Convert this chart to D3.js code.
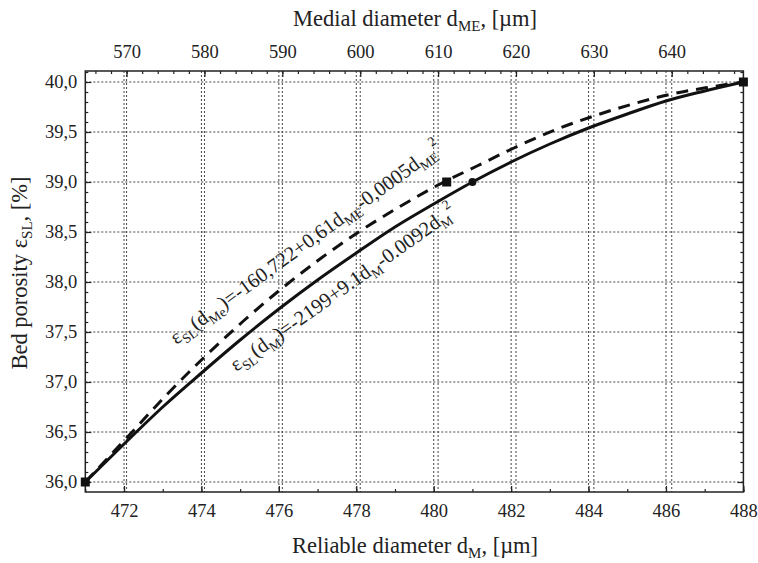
<!DOCTYPE html>
<html>
<head>
<meta charset="utf-8">
<script src="https://cdn.jsdelivr.net/npm/d3@7"></script>
<style>
body { margin: 0; background: #fff; }
text { font-family: "Liberation Serif", "DejaVu Serif", serif; fill: #222; }
</style>
</head>
<body>
<div id="chart"></div>
<script>
// values
// solid curve, eps_SL against reliable diameter dM (bottom axis)
const dM = [471, 472, 473, 474, 475, 476, 477, 478, 479, 480, 481, 482, 483, 484, 485, 486, 487, 488];
const epsM = [36.00, 36.38, 36.75, 37.09, 37.42, 37.73, 38.02, 38.29, 38.55, 38.78, 39.00, 39.20, 39.38, 39.54, 39.68, 39.81, 39.91, 40.00];
const markM = [471, 481, 488];
const markEpsM = [36.0, 39.0, 40.0];

// dashed curve, eps_SL against medial diameter dME (top axis)
const dME = [564.7, 570, 575, 580, 585, 590, 595, 600, 605, 610, 615, 620, 625, 630, 635, 640, 645, 649.2];
const epsME = [36.00, 36.44, 36.86, 37.25, 37.61, 37.94, 38.24, 38.51, 38.75, 38.97, 39.16, 39.35, 39.52, 39.66, 39.78, 39.88, 39.95, 40.00];
const markME = [564.7, 611.1, 649.2];
const markEpsME = [36.0, 39.0, 40.0];

const bottomTicks = [472, 474, 476, 478, 480, 482, 484, 486, 488];
const topTicks = [570, 580, 590, 600, 610, 620, 630, 640];
const yTicks = [36.0, 36.5, 37.0, 37.5, 38.0, 38.5, 39.0, 39.5, 40.0];

const W = 758, H = 563;
const L = 85.3, R = 743.4, T = 71, B = 492;
const SERIF = '"Liberation Serif", "DejaVu Serif", serif';

let svg = d3.select("#chart").append("svg")
	.attr("width", W)
	.attr("height", H);

let xB = d3.scaleLinear().domain([471, 488]).range([L, R]);
let xT = d3.scaleLinear().domain([564.7, 649.2]).range([L, R]);
let y = d3.scaleLinear().domain([35.9, 40.11]).range([B, T]);

let fmt = d => d3.format(".1f")(d).replace(".", ",");

// grid
let grid = svg.append("g")
	.attr("stroke", "#444")
	.attr("stroke-width", 1)
	.attr("stroke-dasharray", "2,2");
grid.selectAll(".gy").data(yTicks).enter().append("line")
	.attr("x1", L).attr("x2", R)
	.attr("y1", d => y(d)).attr("y2", d => y(d));
grid.selectAll(".gb").data(bottomTicks.filter(d => d < 488)).enter().append("line")
	.attr("x1", d => xB(d)).attr("x2", d => xB(d))
	.attr("y1", T).attr("y2", B);
grid.selectAll(".gt").data(topTicks).enter().append("line")
	.attr("x1", d => xT(d)).attr("x2", d => xT(d))
	.attr("y1", T).attr("y2", B);

// axes, ticks point inward
function styleAxis(g) {
	g.attr("font-family", SERIF);
	g.select(".domain").remove();
	g.selectAll("line").attr("stroke", "#222").attr("stroke-width", 1.2);
	g.selectAll("text")
		.style("font-family", SERIF)
		.style("font-size", "18.5px")
		.attr("fill", "#222");
}

svg.append("g").attr("transform", "translate(0," + B + ")")
	.call(d3.axisBottom(xB).tickValues(d3.range(471, 489, 1)).tickSize(-3).tickFormat(""))
	.call(styleAxis);
svg.append("g").attr("transform", "translate(0," + B + ")")
	.call(d3.axisBottom(xB).tickValues(bottomTicks).tickSize(-6).tickPadding(12).tickFormat(d3.format("d")))
	.call(styleAxis);

svg.append("g").attr("transform", "translate(0," + T + ")")
	.call(d3.axisTop(xT).tickValues(d3.range(566, 649, 2)).tickSize(-3).tickFormat(""))
	.call(styleAxis);
svg.append("g").attr("transform", "translate(0," + T + ")")
	.call(d3.axisTop(xT).tickValues(topTicks).tickSize(-6).tickPadding(13).tickFormat(d3.format("d")))
	.call(styleAxis);

let minorY = d3.range(36.0, 40.11, 0.1);
svg.append("g").attr("transform", "translate(" + L + ",0)")
	.call(d3.axisLeft(y).tickValues(minorY).tickSize(-3).tickFormat(""))
	.call(styleAxis);
svg.append("g").attr("transform", "translate(" + L + ",0)")
	.call(d3.axisLeft(y).tickValues(yTicks).tickSize(-6).tickPadding(8).tickFormat(fmt))
	.call(styleAxis);
svg.append("g").attr("transform", "translate(" + R + ",0)")
	.call(d3.axisRight(y).tickValues(minorY).tickSize(-3).tickFormat(""))
	.call(styleAxis);
svg.append("g").attr("transform", "translate(" + R + ",0)")
	.call(d3.axisRight(y).tickValues(yTicks).tickSize(-6).tickFormat(""))
	.call(styleAxis);

// frame
svg.append("rect")
	.attr("x", L).attr("y", T)
	.attr("width", R - L).attr("height", B - T)
	.attr("fill", "none")
	.attr("stroke", "#222")
	.attr("stroke-width", 1.5);

// curves
let lineM = d3.line().x((d, i) => xB(dM[i])).y(d => y(d)).curve(d3.curveMonotoneX);
let lineME = d3.line().x((d, i) => xT(dME[i])).y(d => y(d)).curve(d3.curveMonotoneX);

svg.append("path").datum(epsME)
	.attr("d", lineME)
	.attr("fill", "none")
	.attr("stroke", "#111")
	.attr("stroke-width", 3)
	.attr("stroke-dasharray", "12,8");
svg.append("path").datum(epsM)
	.attr("d", lineM)
	.attr("fill", "none")
	.attr("stroke", "#111")
	.attr("stroke-width", 3);

svg.selectAll(".mm").data(markM).enter().append("circle")
	.attr("cx", d => xB(d))
	.attr("cy", (d, i) => y(markEpsM[i]))
	.attr("r", 4)
	.attr("fill", "#111");
svg.selectAll(".mme").data(markME).enter().append("rect")
	.attr("x", d => xT(d) - 4.5)
	.attr("y", (d, i) => y(markEpsME[i]) - 4.5)
	.attr("width", 9).attr("height", 9)
	.attr("fill", "#111");

// equations written along the curves
function equation(x0, y0, ang, parts) {
	let t = svg.append("text")
		.attr("transform", "translate(" + x0 + "," + y0 + ") rotate(" + ang + ")")
		.style("font-size", "20.5px");
	let shift = 0;
	parts.forEach(p => {
		let target = p[1] == "sub" ? 5 : (p[1] == "sup" ? -10 : 0);
		t.append("tspan")
			.attr("dy", target - shift)
			.style("font-size", p[1] ? "13.5px" : "20.5px")
			.text(p[0]);
		shift = target;
	});
}

equation(xB(473.35), y(37.37), -36, [
	["ε"], ["SL", "sub"], ["(d"], ["Me", "sub"], [")=-160,722+0,61d"], ["ME", "sub"],
	["-0,0005d"], ["ME", "sub"], ["2", "sup"]
]);
equation(xB(474.9), y(37.1), -35.5, [
	["ε"], ["SL", "sub"], ["(d"], ["M", "sub"], [")=-2199+9.1d"], ["M", "sub"],
	["-0.0092d"], ["M", "sub"], ["2", "sup"]
]);

// axis titles
function title(x0, y0, ang, parts) {
	let t = svg.append("text")
		.attr("transform", "translate(" + x0 + "," + y0 + ") rotate(" + ang + ")")
		.attr("text-anchor", "middle")
		.style("font-size", "22.5px");
	parts.forEach(p => {
		t.append("tspan")
			.attr("dy", p[1] ? 5 : (p[2] ? -5 : 0))
			.style("font-size", p[1] ? "15px" : "22.5px")
			.text(p[0]);
	});
}

title(415, 26, 0, [["Medial diameter d"], ["ME", true], [", [µm]", false, true]]);
title(415, 553, 0, [["Reliable diameter d"], ["M", true], [", [µm]", false, true]]);
title(27, 273, -90, [["Bed porosity ε"], ["SL", true], [", [%]", false, true]]);
</script>
</body>
</html>
